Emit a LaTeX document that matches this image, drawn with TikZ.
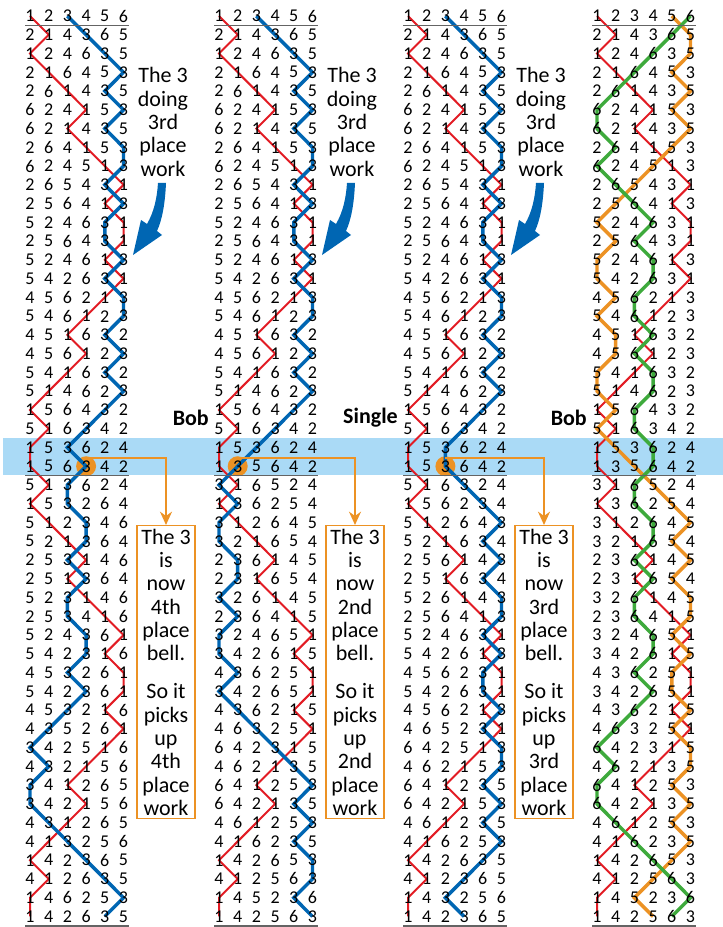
\documentclass[tikz,border=0pt]{standalone}
\usepackage{fontspec}
\setmainfont{Carlito}
\usetikzlibrary{positioning,arrows.meta,calc}
\definecolor{RingRed}{RGB}{226,28,36}
\definecolor{RingBlue}{RGB}{0,102,179}
\definecolor{RingOrange}{RGB}{236,146,36}
\definecolor{RingGreen}{RGB}{62,170,60}
\definecolor{BandBlue}{RGB}{170,218,246}
\definecolor{RuleGray}{RGB}{100,100,100}
\pgfdeclarelayer{band}
\pgfdeclarelayer{lines}
\pgfsetlayers{band,lines,main}
\tikzset{
  digit/.style={inner sep=0pt,font=\fontsize{13.5}{15}\selectfont},
  trebleline/.style={draw=RingRed,line width=1.5pt},
  workline/.style={draw=RingBlue,line width=2.6pt},
  fiveline/.style={draw=RingOrange,line width=2.6pt},
  sixline/.style={draw=RingGreen,line width=2.6pt},
  leadrule/.style={draw=RuleGray,line width=1pt},
  note/.style={align=center,inner sep=0pt,font=\fontsize{16.5}{17.5}\selectfont},
  callbox/.style={draw=RingOrange,line width=1pt,fill=white,align=center,inner sep=0pt,
    minimum width=43.5pt,minimum height=219.75pt,font=\fontsize{16.5}{17.5}\selectfont},
  callout/.style={-{Stealth[length=10pt,width=9pt]},draw=RingOrange,line width=1.5pt},
  dotmark/.style={circle,fill=RingOrange,inner sep=0pt,minimum size=15pt},
  calllabel/.style={anchor=east,inner sep=0pt,font=\fontsize{16.5}{17.5}\selectfont\bfseries}
}
% first lead, the same in every column
\def\leadA{123456,214365,124635,216453,261435,624153,621435,264153,624513,265431,256413,524631,%
256431,524613,542631,456213,546123,451632,456123,541632,514623,156432,516342,153624}
% second lead after plain, bob and single
\edef\rowsA{\leadA,156342,513624,153264,512346,521364,253146,251364,523146,253416,524361,542316,%
453261,542361,453216,435261,342516,432156,341265,342156,431265,413256,142365,412635,146253,142635}
\edef\rowsB{\leadA,135642,316524,136254,312645,321654,236145,231654,326145,236415,324651,342615,%
436251,342651,436215,463251,642315,462135,641253,642135,461253,416235,142653,412563,145236,142563}
\edef\rowsC{\leadA,153642,516324,156234,512643,521634,256143,251634,526143,256413,524631,542613,%
456231,542631,456213,465231,642513,462153,641235,642153,461235,416253,142635,412365,143256,142365}
\let\rowsD\rowsB
\newcommand\putrow[6]{\foreach \d [count=\k] in {#1,#2,#3,#4,#5,#6}
  {\node[digit] (\cn-\d-\r) at ({\cx+18.7*(\k-1)},{16+18.76*(\r-1)}) {\d};}}

\begin{document}
\begin{tikzpicture}[x=0.75pt,y=-0.75pt]
  \useasboundingbox (0,0) rectangle (723,927);
  \begin{pgfonlayer}{band}
    \fill[BandBlue] (3,437.5) rectangle (723,474.5);
  \end{pgfonlayer}
  % the rows of numbers
  \foreach \cn/\cx in {A/30,B/219,C/408,D/597}{
    \expandafter\let\expandafter\rows\csname rows\cn\endcsname
    \foreach \row [count=\r] in \rows {\expandafter\putrow\row}
    \draw[leadrule] (\cx-5,25.4) -- (\cx+98.5,25.4);
    \draw[leadrule] (\cx-5,475.6) -- (\cx+98.5,475.6);
    \draw[leadrule] (\cx-5,925.9) -- (\cx+98.5,925.9);
  }
  % lines of the treble and the working bells
  \begin{pgfonlayer}{lines}
    \foreach \cn in {A,B,C}{
      \draw[trebleline] (\cn-1-1.center) \foreach \r in {2,...,49}{ -- (\cn-1-\r.center)};
      \draw[workline] (\cn-3-1.center) \foreach \r in {2,...,49}{ -- (\cn-3-\r.center)};
    }
    \foreach \b/\sty in {1/trebleline,5/fiveline,6/sixline}
      \draw[\sty] (D-\b-1.center) \foreach \r in {2,...,49}{ -- (D-\b-\r.center)};
  \end{pgfonlayer}
  % notes, callouts and arrows
  \foreach \cn/\ox/\nth in {A/0/4th,B/189/2nd,C/378/3rd}{
    \node[note] (note\cn) at (\ox+163,122) {The 3\\doing\\3rd\\place\\work};
    \fill[RingBlue] (\ox+158,183) -- (\ox+166,183) .. controls (\ox+165,205) and (\ox+162,220) ..
      (\ox+157,231) -- (\ox+162,235) -- (\ox+133,255) -- (\ox+141,220) -- (\ox+147,224)
      .. controls (\ox+154,212) and (\ox+157,198) .. (\ox+158,183) -- cycle;
    \begin{pgfonlayer}{band}
      \node[dotmark] (dot\cn) at (\cn-3-25.center) {};
    \end{pgfonlayer}
    \node[callbox,anchor=north] (box\cn) at (\ox+166,525)
      {The 3\\is\\now\\\nth\\place\\bell.\\[11pt]So it\\picks\\up\\\nth\\place\\work};
    \draw[callout] ([yshift=-1.5pt]dot\cn.north) -| (box\cn.north);
  }
  \node[calllabel] (bobB) at (209,418) {Bob};
  \node[calllabel] (singleC) at (398,418) {Single};
  \node[calllabel] (bobD) at (587,418) {Bob};
\end{tikzpicture}
\end{document}
